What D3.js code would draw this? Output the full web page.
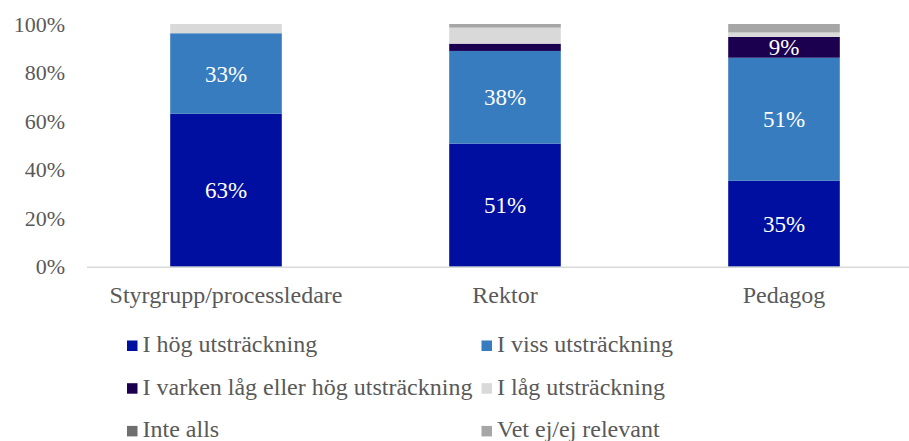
<!DOCTYPE html>
<html>
<head>
<meta charset="utf-8">
<script src="https://cdn.jsdelivr.net/npm/d3@7"></script>
<style>
  body { margin: 0; background: #fff; }
  text { font-family: "Liberation Serif", "Times New Roman", serif; }
</style>
</head>
<body>
<script>
// categories and series (percent)
var categories = ["Styrgrupp/processledare", "Rektor", "Pedagog"];
var seriesNames = ["I hög utsträckning", "I viss utsträckning",
  "I varken låg eller hög utsträckning", "I låg utsträckning",
  "Inte alls", "Vet ej/ej relevant"];
var hog     = [63.0, 50.7, 35.4];
var viss    = [33.2, 38.2, 50.7];
var varken  = [0.0,  3.0,  8.6];
var lag     = [3.8,  6.6,  1.8];
var inteAlls = [0.0, 0.0,  0.0];
var vetEj   = [0.0,  1.5,  3.5];
var yTicks = [0, 20, 40, 60, 80, 100];

var colors = ["#000F9F", "#377CBF", "#1C0050", "#D9D9D9", "#6F6F6F", "#A6A6A6"];
var seriesValues = [hog, viss, varken, lag, inteAlls, vetEj];

var width = 909, height = 441;
var svg = d3.select("body").append("svg")
  .attr("width", width)
  .attr("height", height);

// build rows for the stack
var rows = categories.map(function(c, i) {
  var r = {cat: c};
  seriesNames.forEach(function(s, j) { r[s] = seriesValues[j][i]; });
  return r;
});
var stacked = d3.stack().keys(seriesNames)(rows);

var x = d3.scaleBand()
  .domain(categories)
  .range([86.5, 923.5])
  .paddingInner(0.6)
  .paddingOuter(0.3);

var y = d3.scaleLinear()
  .domain([0, 100])
  .range([266.7, 24]);

// y axis labels
var yAxis = d3.axisLeft(y).tickValues(yTicks).tickSize(0).tickPadding(0)
  .tickFormat(function(d) { return d + "%"; });
var gy = svg.append("g").attr("transform", "translate(65,0)").call(yAxis);
gy.select(".domain").remove();
gy.selectAll("text")
  .style("font-family", "Liberation Serif")
  .style("font-size", "22px")
  .attr("fill", "#595959");

// bars
var layers = svg.selectAll("g.layer")
  .data(stacked)
  .enter().append("g")
  .attr("class", "layer")
  .attr("fill", function(d, i) { return colors[i]; });

layers.selectAll("rect")
  .data(function(d) { return d; })
  .enter().append("rect")
  .attr("x", function(d) { return x(d.data.cat); })
  .attr("width", x.bandwidth())
  .attr("y", function(d) { return y(d[1]); })
  .attr("height", function(d) { return y(d[0]) - y(d[1]); });

// data labels for the bigger segments
layers.selectAll("text")
  .data(function(d) { return d.filter(function(p) { return p[1] - p[0] >= 8; }); })
  .enter().append("text")
  .attr("x", function(d) { return x(d.data.cat) + x.bandwidth() / 2; })
  .attr("y", function(d) { return (y(d[0]) + y(d[1])) / 2; })
  .attr("dy", "0.35em")
  .attr("text-anchor", "middle")
  .attr("fill", "#ffffff")
  .style("font-size", "23px")
  .text(function(d) { return Math.round(d[1] - d[0]) + "%"; });

// x axis
var xAxis = d3.axisBottom(x).tickSize(0).tickPadding(19);
var gx = svg.append("g").attr("transform", "translate(0,266.7)").call(xAxis);
gx.select(".domain").attr("stroke", "#D9D9D9").attr("stroke-width", 1.5);
gx.selectAll("text")
  .style("font-family", "Liberation Serif")
  .style("font-size", "24px")
  .attr("fill", "#595959");

// legend, two columns
var legend = svg.append("g");
var legItems = legend.selectAll("g")
  .data(seriesNames)
  .enter().append("g")
  .attr("transform", function(d, i) {
    var col = i % 2, row = Math.floor(i / 2);
    return "translate(" + (col === 0 ? 127 : 481.5) + "," + (345.5 + row * 42.7) + ")";
  });
legItems.append("rect")
  .attr("x", 0).attr("y", -5)
  .attr("width", 10.5).attr("height", 10.5)
  .attr("fill", function(d, i) { return colors[i]; });
legItems.append("text")
  .attr("x", 15.5)
  .attr("dy", "0.27em")
  .attr("fill", "#595959")
  .style("font-size", "24px")
  .text(function(d) { return d; });
</script>
</body>
</html>
